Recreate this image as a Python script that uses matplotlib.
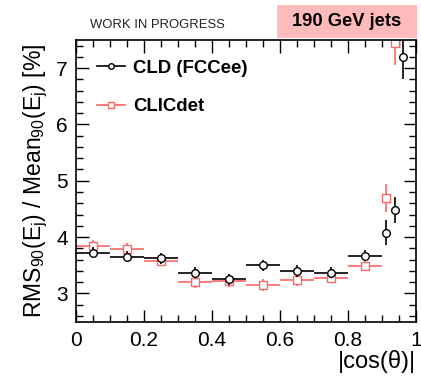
import matplotlib
matplotlib.use("Agg")
import matplotlib.pyplot as plt
from matplotlib.lines import Line2D
from matplotlib.ticker import MultipleLocator
import numpy as np

plt.rcParams['font.family'] = ['Liberation Sans', 'DejaVu Sans']
plt.rcParams['mathtext.fontset'] = 'custom'
plt.rcParams['mathtext.rm'] = 'Liberation Sans'
plt.rcParams['mathtext.it'] = 'Liberation Sans:italic'

# Data
bin_centers = [0.05, 0.15, 0.25, 0.35, 0.45, 0.55, 0.65, 0.75, 0.85]
bin_halfwidth = [0.05] * 9
cld_vals = [3.72, 3.65, 3.62, 3.37, 3.25, 3.50, 3.395, 3.365, 3.67]
cld_err = [0.1, 0.1, 0.1, 0.1, 0.1, 0.1, 0.1, 0.1, 0.1]
clic_vals = [3.84, 3.79, 3.58, 3.195, 3.22, 3.15, 3.235, 3.28, 3.49]
clic_err = [0.1, 0.1, 0.1, 0.1, 0.1, 0.1, 0.1, 0.1, 0.1]

fwd_cld_x = [0.9125, 0.9375, 0.9625]
fwd_cld_vals = [4.08, 4.48, 7.195]
fwd_cld_err = [0.22, 0.23, 0.38]
fwd_clic_x = [0.9125, 0.9375]
fwd_clic_vals = [4.70, 7.45]
fwd_clic_err = [0.25, 0.40]

xticks = [0, 0.2, 0.4, 0.6, 0.8, 1]
xticklabels = ["0", "0.2", "0.4", "0.6", "0.8", "1"]
yticks = [3, 4, 5, 6, 7]
yticklabels = ["3", "4", "5", "6", "7"]

black = "#000000"
red = "#ff6666"

fig = plt.figure(figsize=(4.21, 3.77), dpi=100)
ax = fig.add_axes([76/421, 1 - 321.5/377, 340/421, (321.5-40)/377])

ax.errorbar(bin_centers, clic_vals, xerr=bin_halfwidth, yerr=clic_err, fmt='s',
            color=red, mfc='white', mec=red, ms=5.5, elinewidth=1.2, capsize=0, zorder=2)
ax.errorbar(fwd_clic_x, fwd_clic_vals, yerr=fwd_clic_err, fmt='s',
            color=red, mfc='white', mec=red, ms=5.5, elinewidth=1.2, capsize=0, zorder=2)
ax.errorbar(bin_centers, cld_vals, xerr=bin_halfwidth, yerr=cld_err, fmt='o',
            color=black, mfc='white', mec=black, ms=5.5, elinewidth=1.2, capsize=0, zorder=3)
ax.errorbar(fwd_cld_x, fwd_cld_vals, yerr=fwd_cld_err, fmt='o',
            color=black, mfc='white', mec=black, ms=5.5, elinewidth=1.2, capsize=0, zorder=3)

ax.set_xlim(0, 1)
ax.set_ylim(2.5, 7.5)
ax.set_xticks(xticks)
ax.set_xticklabels(xticklabels)
ax.set_yticks(yticks)
ax.set_yticklabels(yticklabels)
ax.xaxis.set_minor_locator(MultipleLocator(0.05))
ax.yaxis.set_minor_locator(MultipleLocator(0.2))
ax.tick_params(which='both', direction='in', top=True, right=True, labelsize=15, width=1)
ax.tick_params(which='major', length=9)
ax.tick_params(which='minor', length=5)
ax.tick_params(axis='x', pad=7)
ax.tick_params(axis='y', pad=6)
for s in ax.spines.values():
    s.set_linewidth(1.2)

ax.set_ylabel(r"RMS$_{90}$(E$_{\rm j}$) / Mean$_{90}$(E$_{\rm j}$) [%]", fontsize=16.5, labelpad=4)
ax.set_xlabel("|cos(θ)|", fontsize=17, loc='right', labelpad=0)

handles = [
    Line2D([], [], color=black, marker='o', mfc='white', mec=black, ms=4, lw=1.2),
    Line2D([], [], color=red, marker='s', mfc='white', mec=red, ms=4, lw=1.2),
]
leg = ax.legend(handles, ["CLD (FCCee)", "CLICdet"], loc='upper left',
                bbox_to_anchor=(0.012, 0.99), frameon=False,
                prop={'weight': 'bold', 'size': 13.4}, handlelength=1.5,
                handletextpad=0.45, labelspacing=1.15, borderaxespad=0.5)

fig.text(90/421, 1 - 25/377, "WORK IN PROGRESS", fontsize=9.4, color='#222222',
         ha='left', va='center')
fig.patches.append(plt.Rectangle((277/421, 1 - 38/377), 140/421, 33/377,
                                 transform=fig.transFigure, facecolor='#ffbbbb',
                                 edgecolor='none', zorder=0))
fig.text(347/421, 1 - 21/377, "190 GeV jets", fontsize=13.2, fontweight='bold',
         ha='center', va='center')

fig.savefig("out.png", dpi=100)
